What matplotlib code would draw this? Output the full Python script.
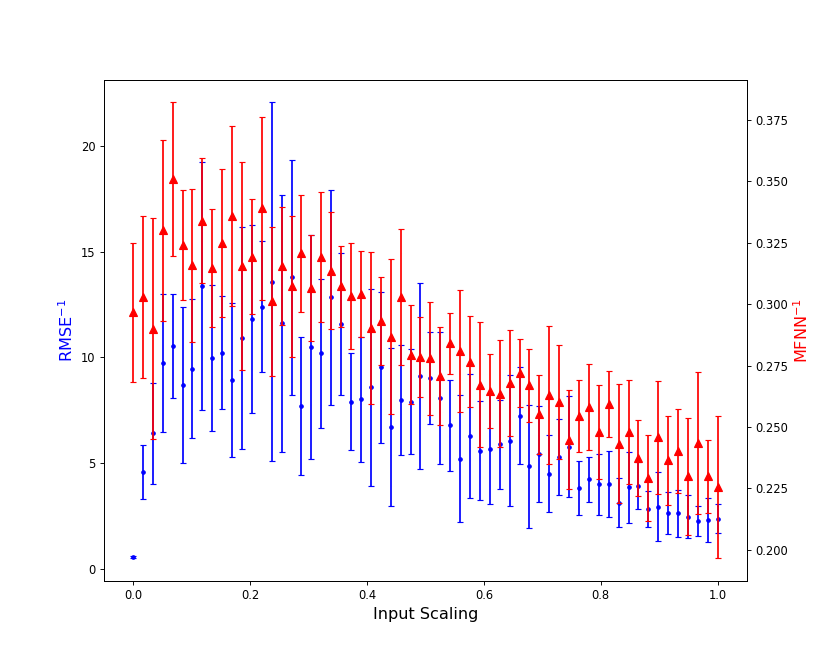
import numpy as np
import matplotlib
matplotlib.use("Agg")
import matplotlib.pyplot as plt

n_points = 60
input_scaling = np.linspace(0, 1, n_points)

rmse_inv = [0.55, 4.58, 6.40, 9.75, 10.54, 8.70, 9.46, 13.37, 9.98, 10.22,
            8.94, 10.92, 11.83, 12.40, 13.59, 11.61, 13.78, 7.71, 10.51, 10.19,
            12.84, 11.58, 7.91, 8.01, 8.58, 9.53, 6.70, 7.99, 7.91, 9.12,
            9.02, 8.07, 6.78, 5.20, 6.29, 5.59, 5.66, 5.88, 6.05, 7.25,
            4.85, 5.43, 4.50, 5.29, 5.78, 3.82, 4.23, 4.00, 4.01, 3.13,
            3.85, 3.92, 2.83, 2.94, 2.64, 2.62, 2.46, 2.27, 2.31, 2.37]
rmse_err = [0.05, 1.28, 2.39, 3.27, 2.47, 3.70, 3.29, 5.88, 3.46, 2.68,
            3.65, 5.25, 4.45, 3.10, 8.47, 6.07, 5.55, 3.25, 5.30, 3.51,
            5.09, 3.35, 2.30, 2.95, 4.65, 3.58, 3.74, 2.60, 2.50, 4.42,
            2.17, 3.13, 2.16, 3.00, 2.92, 2.33, 2.59, 2.11, 3.10, 2.31,
            2.92, 2.25, 1.83, 1.78, 2.39, 1.27, 1.06, 1.44, 1.54, 1.15,
            1.69, 1.11, 0.87, 1.64, 0.99, 1.11, 1.01, 0.70, 1.06, 0.70]

mfnn_inv = [0.2967, 0.3030, 0.2900, 0.3300, 0.3508, 0.3242, 0.3158, 0.3340, 0.3148, 0.3249,
            0.3359, 0.3154, 0.3194, 0.3390, 0.3011, 0.3155, 0.3073, 0.3208, 0.3065, 0.3193,
            0.3137, 0.3072, 0.3033, 0.3042, 0.2904, 0.2931, 0.2868, 0.3030, 0.2795, 0.2785,
            0.2780, 0.2707, 0.2840, 0.2810, 0.2766, 0.2673, 0.2648, 0.2636, 0.2678, 0.2720,
            0.2669, 0.2551, 0.2631, 0.2601, 0.2449, 0.2544, 0.2582, 0.2479, 0.2595, 0.2432,
            0.2479, 0.2375, 0.2294, 0.2458, 0.2364, 0.2401, 0.2300, 0.2435, 0.2300, 0.2256]
mfnn_err = [0.0283, 0.0330, 0.0450, 0.0367, 0.0313, 0.0223, 0.0310, 0.0253, 0.0240, 0.0300,
            0.0367, 0.0423, 0.0234, 0.0372, 0.0302, 0.0240, 0.0287, 0.0238, 0.0216, 0.0264,
            0.0240, 0.0163, 0.0217, 0.0175, 0.0310, 0.0180, 0.0317, 0.0276, 0.0200, 0.0163,
            0.0230, 0.0200, 0.0124, 0.0248, 0.0185, 0.0255, 0.0150, 0.0217, 0.0216, 0.0138,
            0.0150, 0.0160, 0.0282, 0.0231, 0.0201, 0.0147, 0.0174, 0.0190, 0.0134, 0.0243,
            0.0212, 0.0154, 0.0175, 0.0230, 0.0181, 0.0171, 0.0238, 0.0288, 0.0148, 0.0290]

fig, ax1 = plt.subplots(figsize=(10, 8), dpi=83)
fig.subplots_adjust(left=0.125, right=0.9, top=0.88, bottom=0.125)

ax1.errorbar(input_scaling, rmse_inv, yerr=rmse_err, fmt='b.', capsize=3,
             markersize=6, elinewidth=1.5)
ax1.set_xlabel("Input Scaling", fontsize=14)
ax1.set_ylabel("RMSE$^{-1}$", color='b', fontsize=14)

ax2 = ax1.twinx()
ax2.errorbar(input_scaling, mfnn_inv, yerr=mfnn_err, fmt='r^', capsize=3,
             markersize=7, elinewidth=1.5)
ax2.set_ylabel("MFNN$^{-1}$", color='r', fontsize=14)

fig.savefig("out.png", dpi=83)
